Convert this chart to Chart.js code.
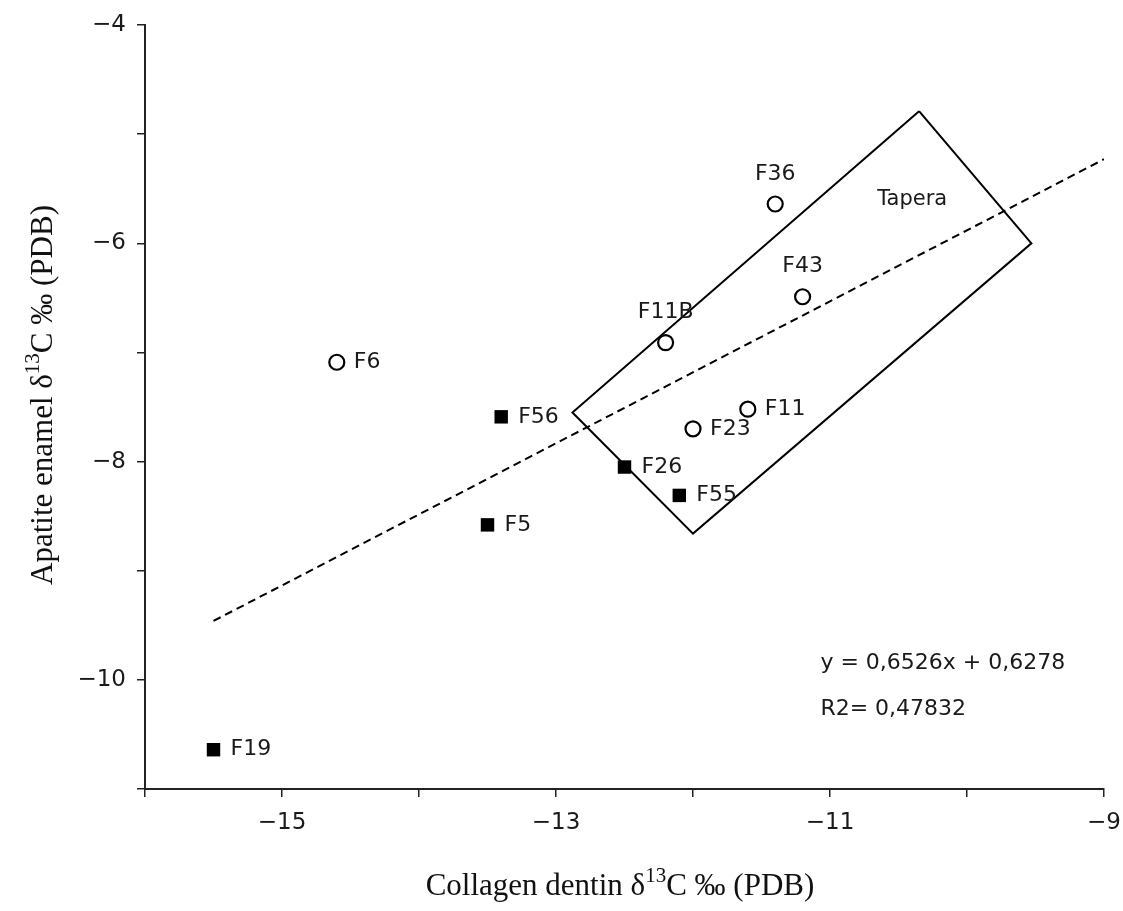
<!DOCTYPE html>
<html>
<head>
<meta charset="utf-8">
<title>Collagen vs apatite δ13C</title>
<script src="https://cdn.jsdelivr.net/npm/chart.js@4.4.0/dist/chart.umd.min.js"></script>
<style>
  html, body { margin: 0; padding: 0; background: #fff; }
  #wrap { width: 1123px; height: 911px; }
</style>
</head>
<body>
<div id="wrap"><canvas id="chart" width="1123" height="911"></canvas></div>
<script>
// filled squares
const squareIds = ['F19', 'F5', 'F56', 'F26', 'F55']
const squareX = [-15.5, -13.5, -13.4, -12.5, -12.1]
const squareY = [-10.64, -8.58, -7.59, -8.05, -8.31]

// open circles
const circleIds = ['F6', 'F11B', 'F23', 'F11', 'F43', 'F36']
const circleX = [-14.6, -12.2, -12.0, -11.6, -11.2, -11.4]
const circleY = [-7.09, -6.91, -7.70, -7.52, -6.49, -5.64]

// regression line ends
const fitX = [-15.5, -9.0]
const fitY = [-9.46, -5.23]

// Tapera box corners (closed)
const taperaX = [-10.35, -9.53, -12.0, -12.88, -10.35]
const taperaY = [-4.79, -6.0, -8.66, -7.55, -4.79]

const xTicks = [-15, -13, -11, -9]
const yTicks = [-4, -6, -8, -10]
const equationText = ['y = 0,6526x + 0,6278', 'R2= 0,47832']

const labelsAbove = ['F36', 'F43', 'F11B']
const sans = '"DejaVu Sans", "Noto Sans", sans-serif'
const serif = '"Liberation Serif", "DejaVu Serif", serif'

function toPoints(xs, ys) {
  return xs.map((x, i) => ({ x: x, y: ys[i] }))
}

function drawSup(ctx, parts, x, y) {
  // parts: [text, isSup], centred on x
  const big = '31px ' + serif
  const small = '21px ' + serif
  let total = 0
  parts.forEach(p => {
    ctx.font = p[1] ? small : big
    total += ctx.measureText(p[0]).width
  })
  let cx = x - total / 2
  ctx.textAlign = 'left'
  ctx.textBaseline = 'alphabetic'
  parts.forEach(p => {
    ctx.font = p[1] ? small : big
    ctx.fillText(p[0], cx, p[1] ? y - 13 : y)
    cx += ctx.measureText(p[0]).width
  })
}

const textPlugin = {
  id: 'textPlugin',
  afterDraw(chart) {
    const ctx = chart.ctx
    const xs = chart.scales.x
    const ys = chart.scales.y
    ctx.save()
    ctx.fillStyle = '#1a1a1a'
    ctx.font = '22px ' + sans
    ctx.textBaseline = 'middle'

    const ids = squareIds.concat(circleIds)
    const px = squareX.concat(circleX)
    const py = squareY.concat(circleY)
    ids.forEach((id, i) => {
      const x = xs.getPixelForValue(px[i])
      const y = ys.getPixelForValue(py[i])
      if (labelsAbove.includes(id)) {
        ctx.textAlign = 'center'
        ctx.fillText(id, x, y - 30)
      } else {
        ctx.textAlign = 'left'
        ctx.fillText(id, x + 17, y)
      }
    })

    // box label
    ctx.font = '21px ' + sans
    ctx.textAlign = 'center'
    ctx.fillText('Tapera', xs.getPixelForValue(-10.4), ys.getPixelForValue(-5.6))

    // equation
    ctx.font = '22px ' + sans
    ctx.textAlign = 'left'
    ctx.fillText(equationText[0], xs.getPixelForValue(-11.07), ys.getPixelForValue(-9.85))
    ctx.fillText(equationText[1], xs.getPixelForValue(-11.07), ys.getPixelForValue(-10.27))

    // axis titles
    ctx.fillStyle = '#111'
    drawSup(ctx, [['Collagen dentin δ', false], ['13', true], ['C ‰ (PDB)', false]], 620, 895)
    ctx.translate(52, 395)
    ctx.rotate(-Math.PI / 2)
    drawSup(ctx, [['Apatite enamel δ', false], ['13', true], ['C ‰ (PDB)', false]], 0, 0)
    ctx.restore()
  }
}

new Chart(document.getElementById('chart').getContext('2d'), {
  type: 'scatter',
  data: {
    datasets: [
      {
        data: toPoints(squareX, squareY),
        pointStyle: 'rect',
        pointRadius: 9.5,
        backgroundColor: '#000',
        borderColor: '#000',
        borderWidth: 0
      },
      {
        data: toPoints(circleX, circleY),
        pointStyle: 'circle',
        pointRadius: 7.5,
        backgroundColor: '#fff',
        borderColor: '#000',
        borderWidth: 2.2
      },
      {
        data: toPoints(fitX, fitY),
        showLine: true,
        pointRadius: 0,
        borderColor: '#000',
        borderWidth: 2,
        borderDash: [8, 5]
      },
      {
        data: toPoints(taperaX, taperaY),
        showLine: true,
        pointRadius: 0,
        borderColor: '#000',
        borderWidth: 2
      }
    ]
  },
  options: {
    responsive: false,
    animation: false,
    layout: { padding: { top: 25, right: 19, left: 0, bottom: 0 } },
    plugins: {
      legend: { display: false },
      tooltip: { enabled: false }
    },
    scales: {
      x: {
        type: 'linear',
        min: -16,
        max: -9,
        afterFit: s => {
          s.height = 122
          s.paddingLeft = 0
          s.paddingRight = 0
        },
        border: { color: '#222', width: 2 },
        grid: { drawOnChartArea: false, tickLength: 8, color: '#222', lineWidth: 1.5 },
        ticks: {
          stepSize: 1,
          padding: 12,
          color: '#1a1a1a',
          font: { family: sans, size: 23 },
          callback: v => xTicks.includes(v) ? '\u2212' + Math.abs(v) : ''
        }
      },
      y: {
        type: 'linear',
        min: -11,
        max: -4,
        afterFit: s => {
          s.width = 145
          s.paddingTop = 0
          s.paddingBottom = 0
        },
        border: { color: '#222', width: 2 },
        grid: { drawOnChartArea: false, tickLength: 8, color: '#222', lineWidth: 1.5 },
        ticks: {
          stepSize: 1,
          padding: 11,
          color: '#1a1a1a',
          font: { family: sans, size: 23 },
          callback: v => yTicks.includes(v) ? '\u2212' + Math.abs(v) : ''
        }
      }
    }
  },
  plugins: [textPlugin]
})
</script>
</body>
</html>
